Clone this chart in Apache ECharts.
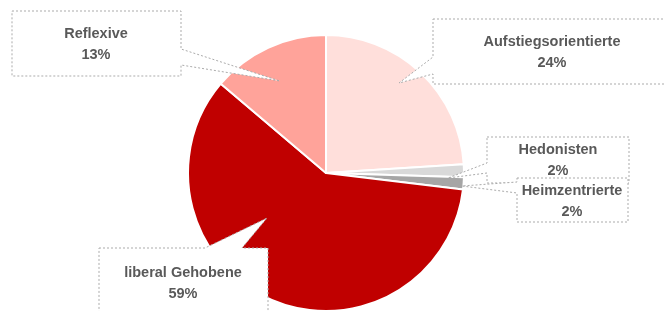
<!DOCTYPE html>
<html><head><meta charset="utf-8">
<script src="https://cdn.jsdelivr.net/npm/echarts@6/dist/echarts.min.js"></script>
<style>html,body{margin:0;padding:0;background:#fff}#c{width:665px;height:311px}</style>
</head><body><div id="c"></div>
<script>
// ---- data ----
const categories = ['Aufstiegsorientierte', 'Hedonisten', 'Heimzentrierte', 'liberal Gehobene', 'Reflexive'];
const values = [24.0, 1.5, 1.4, 59.3, 13.8];
const percentLabels = ['24%', '2%', '2%', '59%', '13%'];

// ---- styles / layout ----
const colors = ['#FFDFDB', '#D9D9D9', '#A6A6A6', '#C00000', '#FFA39A'];
const labelCenters = [[552, 52], [558, 160], [572, 201], [183, 283], [96, 44.5]];
const callouts = [
  [[12,11],[181,11],[181,49],[280,81],[181,65],[181,76],[12,76]],
  [[433,19],[672,19],[672,84],[433,84],[433,74],[399,83],[433,57]],
  [[487,137],[629,137],[629,183],[487,183],[487,173],[448,178],[487,163]],
  [[517,178],[628,178],[628,222],[517,222],[517,193],[462,186],[517,182]],
  [[99,248],[205,248],[267,218],[242,248],[268,248],[268,330],[99,330]]
];
const FONT = "'Liberation Sans Narrow', 'Arial Narrow', 'Liberation Sans', Arial, sans-serif";

const data = categories.map((c, i) => ({ name: c, value: values[i], itemStyle: { color: colors[i] } }));
const labelData = categories.map((c, i) => ({ name: c, value: values[i] }));

const chart = echarts.init(document.getElementById('c'), null, { renderer: 'canvas' });
chart.setOption({
  animation: false,
  backgroundColor: '#fff',
  graphic: callouts.map(pts => ({
    type: 'polygon', z: 5, silent: true,
    shape: { points: pts },
    style: { fill: '#fff', stroke: '#ababab', lineWidth: 1, lineDash: [2, 2] }
  })),
  series: [
    {
      type: 'pie', z: 1, silent: true,
      center: [326, 173], radius: 138, startAngle: 90, clockwise: true,
      itemStyle: { borderColor: '#fff', borderWidth: 2 },
      label: { show: false }, labelLine: { show: false },
      data: data
    },
    {
      type: 'pie', z: 10, silent: true,
      center: [326, 173], radius: 138, startAngle: 90, clockwise: true,
      itemStyle: { color: 'rgba(0,0,0,0)', borderWidth: 0 },
      avoidLabelOverlap: false,
      label: {
        show: true, position: 'outside',
        formatter: p => p.name + '\n' + percentLabels[p.dataIndex],
        fontFamily: FONT, fontWeight: 'bold', fontSize: 14.5, lineHeight: 21,
        color: '#595959', align: 'center'
      },
      labelLine: { show: false },
      labelLayout: p => ({ x: labelCenters[p.dataIndex][0], y: labelCenters[p.dataIndex][1], align: 'center', verticalAlign: 'middle' }),
      data: labelData
    }
  ]
});
</script></body></html>
